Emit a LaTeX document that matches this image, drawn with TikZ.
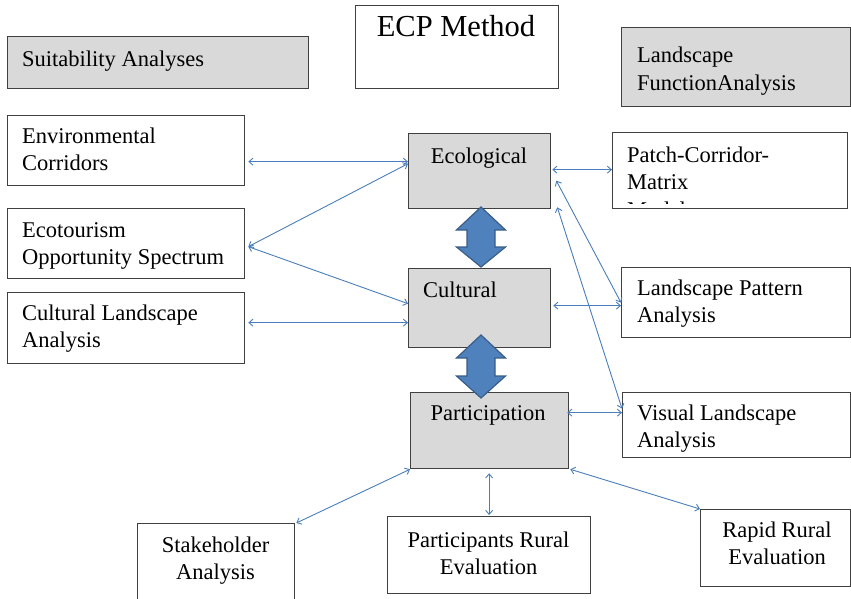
\documentclass[tikz,border=0pt]{standalone}
\usepackage{fontspec}
\setmainfont{Liberation Serif}
\usetikzlibrary{arrows.meta,calc}
\definecolor{boxgray}{HTML}{D9D9D9}
\definecolor{lineblue}{HTML}{4A7EBB}
\definecolor{arrfill}{HTML}{4F81BD}
\definecolor{arrdraw}{HTML}{385D8A}
\definecolor{boxline}{HTML}{404040}
\begin{document}
\begin{tikzpicture}[x=1pt,y=-1pt,
  box/.style={draw=boxline, line width=1.3pt, inner sep=0pt, anchor=north west, fill=white},
  gbox/.style={box, fill=boxgray},
  txt/.style={inner sep=0pt, font=\fontsize{22.5}{27.5}\selectfont, text width=#1, align=flush left, anchor=base west},
  ctxt/.style={inner sep=0pt, font=\fontsize{22.5}{27.5}\selectfont, text width=#1, align=flush center, anchor=base},
  conn/.style={draw=lineblue, line width=0.9pt, {Straight Barb[length=4pt,width=7pt]}-{Straight Barb[length=4pt,width=7pt]}},
  blk/.style={fill=arrfill, draw=arrdraw, line width=1.2pt, line join=miter}
]
\useasboundingbox (0,0) rectangle (851,599);

% boxes
\node[gbox, minimum width=301pt, minimum height=52pt] (suit) at (7,36) {};
\node[box,  minimum width=203pt, minimum height=83pt] (ecp) at (355,5) {};
\node[gbox, minimum width=229pt, minimum height=79pt] (lfa) at (621,27) {};
\node[box,  minimum width=237pt, minimum height=70pt] (env) at (7,115) {};
\node[box,  minimum width=237pt, minimum height=70pt] (eos) at (7,208) {};
\node[box,  minimum width=237pt, minimum height=71pt] (cla) at (7,292) {};
\node[gbox, minimum width=142pt, minimum height=75pt] (eco) at (408,133) {};
\node[gbox, minimum width=142pt, minimum height=79pt] (cul) at (408,268) {};
\node[gbox, minimum width=158pt, minimum height=76pt] (par) at (410,392) {};
\node[box,  minimum width=235pt, minimum height=76pt] (pcm) at (612,132) {};
\node[box,  minimum width=229pt, minimum height=70pt] (lpa) at (621,267) {};
\node[box,  minimum width=228pt, minimum height=65pt] (vla) at (622,392) {};
\node[box,  minimum width=157pt, minimum height=85pt] (stk) at (137,523) {};
\node[box,  minimum width=203pt, minimum height=77pt] (pre) at (387,516) {};
\node[box,  minimum width=150pt, minimum height=77pt] (rre) at (700,509) {};

% texts
\node[txt=280pt] (suit-t) at (22,67) {Suitability Analyses};
\node[inner sep=0pt, font=\fontsize{30.5}{36}\selectfont, anchor=base] (ecp-t) at (456,37) {ECP Method};
\node[txt=210pt] (lfa-t) at (637,63) {Landscape\\FunctionAnalysis};
\node[txt=220pt] (env-t) at (22,143) {Environmental\\Corridors};
\node[txt=220pt] (eos-t) at (22,237) {Ecotourism\\Opportunity Spectrum};
\node[txt=220pt] (cla-t) at (22,320) {Cultural Landscape\\Analysis};
\node[ctxt=142pt] (eco-t) at (479,163) {Ecological};
\node[txt=130pt] (cul-t) at (423,297) {Cultural};
\node[ctxt=158pt] (par-t) at (488,420) {Participation};
\node[txt=210pt] (pcm-t) at (627,162) {Patch-Corridor-\\Matrix};
\begin{scope}
  \clip (pcm.north west) rectangle ([yshift=6pt]pcm.south east);
  \node[txt=210pt] (pcm-m) at (627,217) {Model};
\end{scope}
\node[txt=210pt] (lpa-t) at (637,295) {Landscape Pattern\\Analysis};
\node[txt=210pt] (vla-t) at (637,420) {Visual Landscape\\Analysis};
\node[ctxt=157pt] (stk-t) at (215.5,552) {Stakeholder\\Analysis};
\node[ctxt=203pt] (pre-t) at (488.5,547) {Participants Rural\\Evaluation};
\node[ctxt=150pt] (rre-t) at (777,537) {Rapid Rural\\Evaluation};

% connectors
\draw[conn] ([xshift=3pt,yshift=-11pt]env.east) -- ([yshift=9.5pt]eco.west);
\draw[conn] ([xshift=3pt,yshift=-3pt]eos.east) -- ([yshift=7.5pt]eco.west);
\draw[conn] ([xshift=3pt,yshift=-3pt]eos.east) -- ([yshift=4.5pt]cul.west);
\draw[conn] ([xshift=3pt,yshift=5.5pt]cla.east) -- ([yshift=-14.5pt]cul.west);
\draw[conn] ([xshift=1pt,yshift=1.5pt]eco.east) -- ([yshift=1pt]pcm.west);
\draw[conn] ([xshift=5pt,yshift=-9.5pt]eco.east) -- (lpa.west);
\draw[conn] ([xshift=6pt,yshift=2pt]eco.south east) -- ([yshift=16.5pt]vla.west);
\draw[conn] ([xshift=2pt,yshift=2.5pt]cul.east) -- ([yshift=-3pt]lpa.west);
\draw[conn] ([xshift=-2pt,yshift=18pt]par.east) -- ([yshift=12.5pt]vla.west);
\draw[conn] (par.south west) -- ([xshift=1pt]stk.north east);
\draw[conn] ([yshift=-4pt]pre.north |- par.south) -- ([yshift=1pt]pre.north);
\draw[conn] ([xshift=1pt]par.south east) -- (rre.north west);

% block double arrows
\draw[blk] (481,207) -- (505.5,230) -- (495,230) -- (495,247) -- (505.5,247) -- (481,267)
  -- (456.5,247) -- (467,247) -- (467,230) -- (456.5,230) -- cycle;
\draw[blk] (481,335) -- (505.5,358) -- (495,358) -- (495,376) -- (505.5,376) -- (481,398)
  -- (456.5,376) -- (467,376) -- (467,358) -- (456.5,358) -- cycle;
\end{tikzpicture}
\end{document}
